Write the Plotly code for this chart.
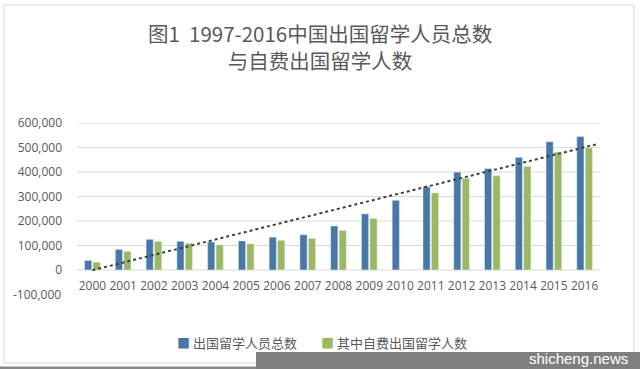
import numpy as np
import plotly.graph_objects as go

years = ["2000", "2001", "2002", "2003", "2004", "2005", "2006", "2007", "2008",
         "2009", "2010", "2011", "2012", "2013", "2014", "2015", "2016"]
total = [38989, 83973, 125179, 117307, 114682, 118515, 134000, 144000, 179800,
         229300, 284700, 339700, 399600, 413900, 459800, 523700, 544500]
self_funded = [32293, 76052, 117307, 109200, 102488, 106559, 121000, 129000, 161600,
               210100, None, 314800, 374300, 384600, 423000, 481800, 498200]
y_ticks = [-100000, 0, 100000, 200000, 300000, 400000, 500000, 600000]
y_tick_text = ["-100,000", "0", "100,000", "200,000", "300,000", "400,000", "500,000", "600,000"]
grid_values = [0, 100000, 200000, 300000, 400000, 500000, 600000]

series_names = ["出国留学人员总数", "其中自费出国留学人数"]
title_lines = ["图1  1997-2016中国出国留学人员总数", "与自费出国留学人数"]
watermark = "shicheng.news"

xi = np.arange(len(years))
slope, intercept = np.polyfit(xi, np.array(total, dtype=float), 1)
trend_x = np.array([0.0, len(years) - 1 + 0.4])
trend_y = slope * trend_x + intercept

W, H = 640, 369
L, R, T, B = 77, 600, 123, 295

BLUE = "#4a78a6"
GREEN = "#9bb862"
GRAY = "#595959"
FONT = "Noto Sans CJK SC"
TICK_FONT = dict(family="Open Sans", size=12, color=GRAY)

fig = go.Figure()
fig.add_trace(go.Bar(x=xi, y=total, name=series_names[0], marker_color=BLUE, showlegend=False))
fig.add_trace(go.Bar(x=xi, y=self_funded, name=series_names[1], marker_color=GREEN, showlegend=False))
fig.add_trace(go.Scatter(x=trend_x, y=trend_y, mode="lines", showlegend=False,
                         line=dict(color="#404040", width=2, dash="dot"), hoverinfo="skip"))

def px_x(p):
    return (p - L) / (R - L)

def px_y(p):
    return (B - p) / (B - T)

shapes = []
for g in grid_values:
    shapes.append(dict(type="line", xref="paper", yref="y", x0=0, x1=1, y0=g, y1=g,
                       line=dict(color="#d9d9d9", width=1), layer="below"))
# outer frame
shapes.append(dict(type="rect", xref="paper", yref="paper",
                   x0=px_x(4), x1=px_x(634), y0=px_y(363), y1=px_y(5),
                   line=dict(color="#d9d9d9", width=1), layer="below"))
# bottom strip
shapes.append(dict(type="rect", xref="paper", yref="paper",
                   x0=px_x(-5), x1=px_x(645), y0=px_y(375), y1=px_y(366.5),
                   fillcolor="#8a8a8a", line=dict(width=0), layer="above"))
# watermark bar
shapes.append(dict(type="rect", xref="paper", yref="paper",
                   x0=px_x(256), x1=px_x(645), y0=px_y(375), y1=px_y(352),
                   fillcolor="#7f7f7f", line=dict(width=0), layer="above"))

legend_y = px_y(342)
annotations = [
    dict(text="<br>".join(title_lines), xref="paper", yref="paper", x=px_x(320), y=px_y(46.5),
         showarrow=False, font=dict(family=FONT, size=20.5, color=GRAY), xanchor="center",
         yanchor="middle", align="center"),
    dict(text=f"<span style='color:{BLUE}'>■</span> {series_names[0]}", xref="paper", yref="paper",
         x=px_x(175), y=legend_y, showarrow=False, xanchor="left", yanchor="middle",
         font=dict(family=FONT, size=13, color=GRAY)),
    dict(text=f"<span style='color:{GREEN}'>■</span> {series_names[1]}", xref="paper", yref="paper",
         x=px_x(319), y=legend_y, showarrow=False, xanchor="left", yanchor="middle",
         font=dict(family=FONT, size=13, color=GRAY)),
    dict(text=watermark, xref="paper", yref="paper", x=px_x(630), y=px_y(358),
         showarrow=False, font=dict(family="Liberation Sans", size=15, color="white"),
         xanchor="right", yanchor="middle"),
    # lowest y tick label, placed by its data value on the y axis
    dict(text=y_tick_text[0], xref="paper", yref="y", x=px_x(63), y=y_ticks[0],
         showarrow=False, xanchor="right", yanchor="middle", font=TICK_FONT),
]

fig.update_layout(
    width=W, height=H,
    margin=dict(l=L, r=W - R, t=T, b=H - B, autoexpand=False),
    paper_bgcolor="white", plot_bgcolor="white",
    barmode="group", bargap=0.45, bargroupgap=0.15,
    font=dict(family=FONT, color=GRAY, size=12),
    showlegend=False,
    xaxis=dict(range=[-0.5, len(years) - 0.5], tickvals=list(xi), ticktext=years,
               showgrid=False, zeroline=False, showline=False, ticks="",
               ticklabelposition="inside", tickfont=TICK_FONT),
    yaxis=dict(range=[-102000, 600000], tickvals=y_ticks[1:], ticktext=y_tick_text[1:],
               showgrid=False, zeroline=False, showline=False, ticks="",
               ticklabelstandoff=14, tickfont=TICK_FONT),
    shapes=shapes, annotations=annotations,
)

fig.write_html("out.html", config={"displayModeBar": False},
               post_script="document.body.style.margin='0';document.body.style.overflow='hidden';")
